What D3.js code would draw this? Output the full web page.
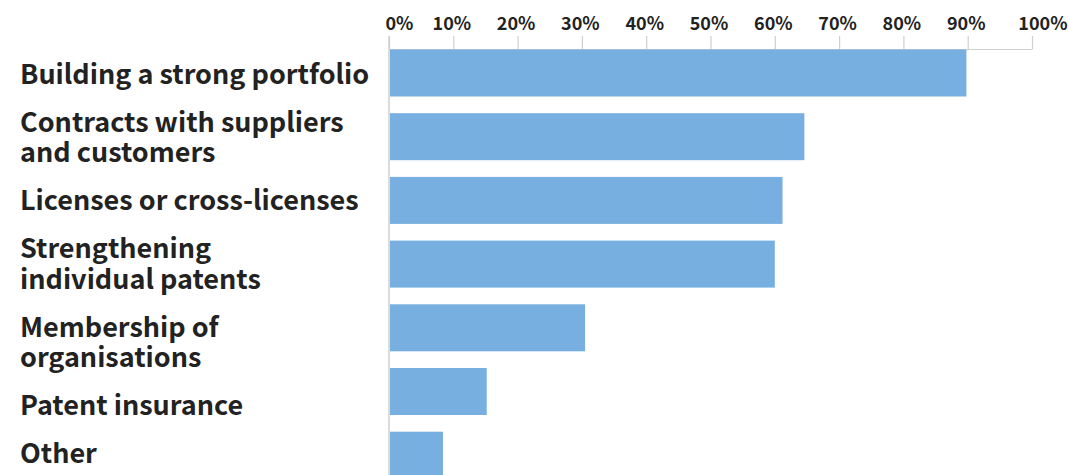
<!DOCTYPE html>
<html>
<head>
<meta charset="utf-8">
<script src="https://cdn.jsdelivr.net/npm/d3@7"></script>
<style>
  html, body { margin: 0; padding: 0; background: #fff; }
  svg { display: block; }
  text { font-family: "Noto Sans CJK JP", "Noto Sans", sans-serif; font-weight: 700; fill: #222; }
</style>
</head>
<body>
<svg id="chart" width="1068" height="475"></svg>
<script>
const categories = [
  ["Building a strong portfolio"],
  ["Contracts with suppliers", "and customers"],
  ["Licenses or cross-licenses"],
  ["Strengthening", "individual patents"],
  ["Membership of", "organisations"],
  ["Patent insurance"],
  ["Other"]
];
const values = [89.8, 64.6, 61.2, 60.0, 30.5, 15.2, 8.4];
const tickValues = [0, 10, 20, 30, 40, 50, 60, 70, 80, 90, 100];

const svg = d3.select("#chart");
const keys = categories.map(c => c.join(" "));

const x = d3.scaleLinear().domain([0, 100]).range([389, 1032]);
const y = d3.scaleBand().domain(keys).range([41.15, 487.05])
  .paddingInner(0.262).paddingOuter(0.131);

// vertical axis line
svg.append("line")
  .attr("x1", x(0)).attr("x2", x(0))
  .attr("y1", 36).attr("y2", 475)
  .attr("stroke", "#cfcfcf").attr("stroke-width", 1.5);

// top axis
const axis = d3.axisTop(x).tickValues(tickValues).tickFormat(d => d + "%")
  .tickSize(13).tickSizeOuter(0).tickPadding(6);
const gAxis = svg.append("g").attr("transform", "translate(0,49)").call(axis);
gAxis.select(".domain").attr("stroke", "#cfcfcf").attr("stroke-width", 1.2);
gAxis.selectAll(".tick line").attr("stroke", "#cfcfcf").attr("stroke-width", 1.2);
gAxis.selectAll(".tick text")
  .style("font-size", "18px")
  .attr("fill", "#222")
  .attr("dx", -2)
  .each(function(d) {
    if (d === 0) d3.select(this).attr("text-anchor", "start").attr("dx", -4);
    if (d === 100) d3.select(this).attr("text-anchor", "end").attr("dx", 35);
  });

// bars
svg.append("g").selectAll("rect")
  .data(values)
  .join("rect")
  .attr("x", x(0) + 1)
  .attr("y", (d, i) => y(keys[i]))
  .attr("width", d => x(d) - x(0) - 1)
  .attr("height", y.bandwidth())
  .attr("fill", "#77b0e0");

// category labels: flowing text blocks, as in the reference
const lineH = 30.5, blockGap = 48, firstLine = 74, capHalf = 9.5;
let cur = firstLine;
const g = svg.append("g");
categories.forEach((lines, i) => {
  const t = g.append("text").attr("x", 20).style("font-size", "27px");
  lines.forEach((ln, j) => {
    t.append("tspan")
      .attr("x", 20)
      .attr("y", cur + j * lineH + capHalf)
      .text(ln);
  });
  cur = cur + (lines.length - 1) * lineH + blockGap;
});
</script>
</body>
</html>
